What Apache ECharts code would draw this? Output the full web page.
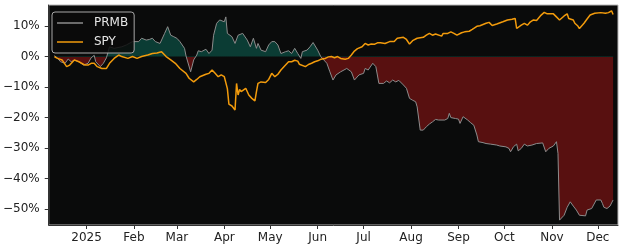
<!DOCTYPE html>
<html>
<head>
<meta charset="utf-8">
<script src="https://cdn.jsdelivr.net/npm/echarts@6/dist/echarts.min.js"></script>
<style>
html,body{margin:0;padding:0;background:#fff;}
#chart{width:625px;height:250px;}
</style>
</head>
<body>
<div id="chart"></div>
<script>
// ---- data (percent change) ----
const prmbDates = [
'2024-12-11','2024-12-13','2024-12-15','2024-12-18','2024-12-20','2024-12-22','2024-12-24','2024-12-27','2024-12-30','2025-01-02',
'2025-01-04','2025-01-06','2025-01-07','2025-01-10','2025-01-12','2025-01-14','2025-01-16','2025-01-19','2025-01-24','2025-01-27',
'2025-01-31','2025-02-04','2025-02-06','2025-02-09','2025-02-11','2025-02-13','2025-02-15','2025-02-18','2025-02-21','2025-02-23',
'2025-02-25','2025-02-27','2025-03-01','2025-03-03','2025-03-06','2025-03-07','2025-03-10','2025-03-12','2025-03-14','2025-03-15',
'2025-03-17','2025-03-20','2025-03-22','2025-03-24','2025-03-25','2025-03-27','2025-03-29','2025-04-01','2025-04-02','2025-04-03',
'2025-04-06','2025-04-08','2025-04-10','2025-04-11','2025-04-13','2025-04-16','2025-04-18','2025-04-20','2025-04-22','2025-04-23',
'2025-04-25','2025-04-28','2025-04-30','2025-05-02','2025-05-04','2025-05-06','2025-05-08','2025-05-11','2025-05-12','2025-05-13',
'2025-05-15','2025-05-17','2025-05-19','2025-05-20','2025-05-21','2025-05-22','2025-05-25','2025-05-27','2025-05-29','2025-06-01',
'2025-06-03','2025-06-05','2025-06-06','2025-06-07','2025-06-09','2025-06-11','2025-06-13','2025-06-16','2025-06-20','2025-06-23',
'2025-06-25','2025-06-28','2025-07-01','2025-07-02','2025-07-04','2025-07-07','2025-07-09','2025-07-10','2025-07-11','2025-07-14',
'2025-07-16','2025-07-18','2025-07-20','2025-07-22','2025-07-24','2025-07-27','2025-07-29','2025-07-31','2025-08-02','2025-08-04',
'2025-08-05','2025-08-07','2025-08-09','2025-08-11','2025-08-13','2025-08-15','2025-08-17','2025-08-19','2025-08-20','2025-08-23',
'2025-08-25','2025-08-26','2025-08-27','2025-08-30','2025-09-01','2025-09-02','2025-09-04','2025-09-05','2025-09-07','2025-09-09',
'2025-09-11','2025-09-13','2025-09-14','2025-09-17','2025-09-19','2025-09-22','2025-09-26','2025-09-28','2025-10-02','2025-10-04',
'2025-10-05','2025-10-07','2025-10-09','2025-10-10','2025-10-12','2025-10-14','2025-10-16','2025-10-19','2025-10-22','2025-10-26',
'2025-10-27','2025-10-28','2025-10-30','2025-11-02','2025-11-04','2025-11-05','2025-11-06','2025-11-09','2025-11-11','2025-11-13',
'2025-11-15','2025-11-17','2025-11-19','2025-11-23','2025-11-24','2025-11-27','2025-11-30','2025-12-03','2025-12-04','2025-12-05',
'2025-12-07','2025-12-09','2025-12-11'
];
const prmbValues = [
0.3,-0.5,-1.7,-2.2,-0.8,-1.7,-1.2,-1.7,-2.8,-2.2,
-0.4,0.4,-1.7,-3.3,-2.2,-0.4,3.2,2.7,3.2,3.8,
4.9,4.9,6.0,5.4,5.6,6.0,4.9,4.3,7.6,9.8,
7.0,6.5,6.0,4.9,2.7,0.2,-5.0,-1.1,0.5,1.9,
1.6,2.4,1.0,2.1,7.0,10.9,12.0,11.4,13.0,7.6,
6.5,4.3,7.0,6.5,7.6,5.4,3.2,6.0,2.7,4.3,
2.1,1.6,3.8,4.9,4.9,3.8,1.0,1.6,1.0,1.9,
1.0,2.7,1.0,0.5,-0.6,1.6,2.1,3.2,4.6,2.1,
0.0,-1.1,-0.6,-2.2,-5.0,-7.7,-6.0,-5.0,-3.9,-5.0,
-7.7,-6.0,-5.5,-3.9,-4.4,-2.2,-3.3,-2.8,-8.8,-8.8,
-8.0,-8.6,-7.7,-8.3,-7.8,-9.3,-10.4,-13.7,-14.3,-14.8,
-16.5,-24.1,-24.1,-23.0,-22.1,-21.4,-20.6,-20.8,-20.3,-20.8,
-20.3,-18.6,-20.0,-20.3,-20.5,-21.9,-19.7,-19.5,-20.8,-21.7,
-22.5,-25.7,-27.9,-28.2,-28.5,-28.7,-29.0,-29.3,-29.6,-30.1,
-31.2,-29.5,-28.7,-30.9,-30.1,-28.7,-29.3,-29.0,-28.5,-28.3,
-28.5,-31.2,-30.1,-29.3,-27.9,-31.7,-53.6,-52.0,-49.4,-47.6,
-49.0,-50.3,-52.0,-52.2,-50.3,-49.8,-47.0,-47.0,-48.1,-49.4,
-49.8,-49.0,-47.0
];
const spyDates = [
'2024-12-11','2024-12-13','2024-12-16','2024-12-19','2024-12-21','2024-12-24','2024-12-27','2024-12-31','2025-01-02','2025-01-04',
'2025-01-06','2025-01-08','2025-01-11','2025-01-14','2025-01-16','2025-01-19','2025-01-22','2025-01-24','2025-01-28','2025-01-31',
'2025-02-03','2025-02-06','2025-02-10','2025-02-13','2025-02-16','2025-02-19','2025-02-22','2025-02-25','2025-02-28','2025-03-03',
'2025-03-07','2025-03-09','2025-03-12','2025-03-14','2025-03-16','2025-03-20','2025-03-22','2025-03-24','2025-03-26','2025-03-28',
'2025-03-30','2025-04-01','2025-04-03','2025-04-04','2025-04-06','2025-04-07','2025-04-08','2025-04-09','2025-04-10','2025-04-11',
'2025-04-12','2025-04-15','2025-04-17','2025-04-19','2025-04-21','2025-04-22','2025-04-23','2025-04-25','2025-04-28','2025-04-30',
'2025-05-02','2025-05-04','2025-05-06','2025-05-08','2025-05-11','2025-05-13','2025-05-15','2025-05-17','2025-05-19','2025-05-20',
'2025-05-21','2025-05-24','2025-05-26','2025-05-28','2025-05-30','2025-06-01','2025-06-03','2025-06-06','2025-06-08','2025-06-10',
'2025-06-12','2025-06-14','2025-06-16','2025-06-19','2025-06-21','2025-06-23','2025-06-25','2025-06-27','2025-06-30','2025-07-02',
'2025-07-04','2025-07-06','2025-07-08','2025-07-10','2025-07-12','2025-07-15','2025-07-18','2025-07-21','2025-07-23','2025-07-27',
'2025-07-29','2025-07-31','2025-08-02','2025-08-05','2025-08-09','2025-08-11','2025-08-13','2025-08-15','2025-08-17','2025-08-21',
'2025-08-22','2025-08-25','2025-08-27','2025-08-29','2025-08-31','2025-09-03','2025-09-05','2025-09-08','2025-09-10','2025-09-13',
'2025-09-15','2025-09-19','2025-09-21','2025-09-23','2025-09-24','2025-09-26','2025-09-30','2025-10-03','2025-10-06','2025-10-08',
'2025-10-09','2025-10-12','2025-10-14','2025-10-16','2025-10-18','2025-10-20','2025-10-22','2025-10-25','2025-10-27','2025-10-29',
'2025-10-31','2025-11-02','2025-11-04','2025-11-06','2025-11-09','2025-11-11','2025-11-12','2025-11-15','2025-11-16','2025-11-18',
'2025-11-19','2025-11-22','2025-11-24','2025-11-26','2025-11-29','2025-12-03','2025-12-06','2025-12-08','2025-12-10','2025-12-11'
];
const spyValues = [
0.0,-0.6,-1.1,-3.3,-2.8,-1.1,-1.7,-2.8,-2.8,-2.2,
-2.2,-3.3,-3.9,-3.9,-2.2,-0.6,0.5,0.0,-0.6,0.0,
-0.6,0.0,0.5,1.0,1.2,1.6,0.0,-1.1,-2.2,-3.9,
-5.5,-7.1,-8.3,-7.5,-6.6,-5.8,-5.5,-4.4,-5.5,-6.6,
-6.0,-6.6,-10.5,-15.6,-16.2,-16.7,-17.5,-8.8,-12.6,-10.8,
-11.5,-10.4,-12.6,-13.7,-14.5,-11.5,-8.8,-8.3,-8.5,-7.5,
-5.5,-6.6,-5.8,-4.4,-2.8,-1.7,-1.7,-1.2,-1.5,-2.5,
-2.8,-3.3,-2.6,-2.2,-1.7,-1.4,-0.9,-0.6,-0.1,0.0,
-0.4,0.0,-0.6,-0.9,-0.6,0.5,1.8,2.6,3.2,4.3,
3.8,4.1,4.0,4.5,4.5,4.3,4.9,4.9,6.0,6.3,
5.6,4.1,5.2,6.0,6.3,7.0,7.6,7.0,7.4,6.7,
7.6,7.6,8.1,7.6,7.0,7.8,8.1,8.3,8.9,9.9,
10.1,10.9,11.2,10.2,10.3,10.7,11.4,12.0,12.2,12.5,
9.2,10.3,10.9,10.3,11.4,12.0,11.8,13.6,14.5,14.0,
14.0,14.0,13.0,12.0,13.3,14.0,12.5,12.0,10.9,10.0,
9.2,10.9,12.3,13.6,14.2,14.4,14.2,14.4,15.0,13.8
];
const xTickDates = ['2025-01-01','2025-02-01','2025-03-01','2025-04-01','2025-05-01','2025-06-01','2025-07-01','2025-08-01','2025-09-01','2025-10-01','2025-11-01','2025-12-01'];
const xTickLabels = ['2025','Feb','Mar','Apr','May','Jun','Jul','Aug','Sep','Oct','Nov','Dec'];
const yTicks = [-50,-40,-30,-20,-10,0,10];
const xRange = ['2024-12-07T07', '2025-12-14T05'];
const yRange = [-55.2, 16.9];

function ts(s){
  const [d, h] = s.split('T');
  const [y,m,dd] = d.split('-').map(Number);
  return Date.UTC(y, m-1, dd, h ? Number(h) : 0);
}
const prmb = prmbDates.map((d,i)=>[ts(d), prmbValues[i]]);
const spy = spyDates.map((d,i)=>[ts(d), spyValues[i]]);
const xTicks = xTickDates.map(ts);
const labelMap = {};
xTicks.forEach((t,i)=>{ labelMap[t] = xTickLabels[i]; });

const gridBox = {left: 46, right: 7, top: 5, bottom: 25};
const H = 250;
// hard colour switch at the zero line of the value axis
const zeroFrac = yRange[1] / (yRange[1] - yRange[0]);
const GREEN = '#0b3c34', RED = '#581010';
const fillGradient = new echarts.graphic.LinearGradient(0, gridBox.top, 0, H - gridBox.bottom, [
  {offset: 0, color: GREEN}, {offset: zeroFrac, color: GREEN},
  {offset: zeroFrac, color: RED}, {offset: 1, color: RED}
], true);

const font = 'DejaVu Sans';
const chart = echarts.init(document.getElementById('chart'));
chart.setOption({
  animation: false,
  backgroundColor: '#ffffff',
  grid: Object.assign({show: true, backgroundColor: '#0a0b0b', borderColor: '#b8b8b8', borderWidth: 1}, gridBox),
  xAxis: {
    type: 'value', min: ts(xRange[0]), max: ts(xRange[1]), scale: true,
    axisLine: {show: true, onZero: false, lineStyle: {color: '#333', width: 1}},
    axisTick: {show: true, customValues: xTicks, length: 4, lineStyle: {color: '#333'}},
    axisLabel: {customValues: xTicks, formatter: v => labelMap[v] || '', color: '#222', fontFamily: font, fontSize: 12, margin: 7, hideOverlap: false},
    splitLine: {show: false}
  },
  yAxis: {
    type: 'value', min: yRange[0], max: yRange[1],
    axisLine: {show: true, lineStyle: {color: '#333', width: 1}},
    axisTick: {show: true, customValues: yTicks, length: 4, lineStyle: {color: '#333'}},
    axisLabel: {customValues: yTicks, formatter: v => (v < 0 ? '\u2212' : '') + Math.abs(v) + '%', color: '#222', fontFamily: font, fontSize: 12, margin: 9},
    splitLine: {show: false}
  },
  legend: {
    data: [{name: 'PRMB', icon: 'rect'}, {name: 'SPY', icon: 'rect'}], orient: 'vertical', left: 52, top: 12,
    backgroundColor: 'rgba(10,11,11,0.85)', borderColor: '#a8a8a8', borderWidth: 1, borderRadius: 3,
    padding: [4, 6, 4, 5], itemGap: 5, itemWidth: 26, itemHeight: 1.5,
    textStyle: {color: '#e6e6e6', fontFamily: font, fontSize: 12, padding: [0, 0, 0, 6], lineHeight: 14}
  },
  series: [
    {name: 'PRMBfill', type: 'line', data: prmb, symbol: 'none', lineStyle: {width: 0}, areaStyle: {color: fillGradient, opacity: 1}, z: 1, silent: true},
    {name: 'PRMB', type: 'line', data: prmb, symbol: 'none', lineStyle: {color: '#8c8c8c', width: 1}, itemStyle: {color: '#8c8c8c'}, z: 2},
    {name: 'SPY', type: 'line', data: spy, symbol: 'none', lineStyle: {color: '#f29b0c', width: 1.5}, itemStyle: {color: '#f29b0c'}, z: 3}
  ]
});
</script>
</body>
</html>
